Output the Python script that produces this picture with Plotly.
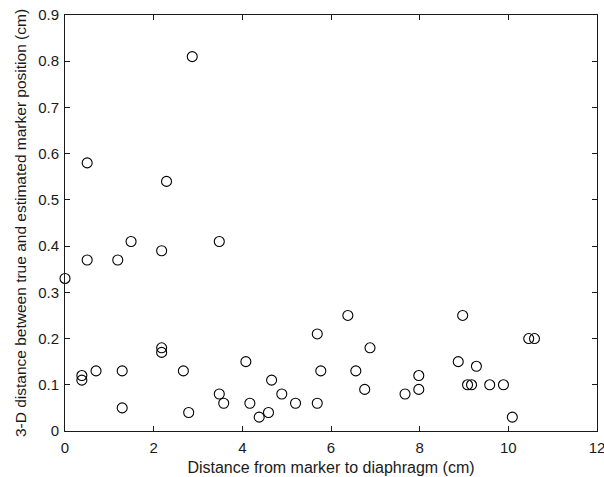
import plotly.graph_objects as go

# Distance from marker to diaphragm (cm)
distance_cm = [
    2.87, 0.50, 2.29,
    0.00, 0.50, 1.19, 1.49, 2.18, 3.48, 2.18, 2.18, 0.38, 0.38, 0.70, 1.29, 1.29, 2.67, 2.79, 3.48, 3.58,
    4.08, 4.17, 4.38, 4.59, 4.66, 4.89, 5.20, 5.69, 5.69, 5.77, 6.38, 6.56, 6.88, 6.76, 7.67, 7.98, 7.98,
    8.97, 8.87, 9.28, 9.08, 9.17, 9.58, 9.89, 10.09, 10.46, 10.59,
]

# 3-D distance between true and estimated marker position (cm)
error_cm = [
    0.81, 0.58, 0.54,
    0.33, 0.37, 0.37, 0.41, 0.39, 0.41, 0.18, 0.17, 0.12, 0.11, 0.13, 0.13, 0.05, 0.13, 0.04, 0.08, 0.06,
    0.15, 0.06, 0.03, 0.04, 0.11, 0.08, 0.06, 0.06, 0.21, 0.13, 0.25, 0.13, 0.18, 0.09, 0.08, 0.12, 0.09,
    0.25, 0.15, 0.14, 0.10, 0.10, 0.10, 0.10, 0.03, 0.20, 0.20,
]

x_ticks = [0, 2, 4, 6, 8, 10, 12]
y_ticks = [0, 0.1, 0.2, 0.3, 0.4, 0.5, 0.6, 0.7, 0.8, 0.9]
y_tick_text = ["0", "0.1", "0.2", "0.3", "0.4", "0.5", "0.6", "0.7", "0.8", "0.9"]

font_family = "Liberation Sans, Arial, sans-serif"
ink = "#1a1a1a"

fig = go.Figure(
    go.Scatter(
        x=distance_cm,
        y=error_cm,
        mode="markers",
        marker=dict(symbol="circle-open", size=10, color="black", line=dict(width=1.1, color="black")),
        showlegend=False,
        cliponaxis=False,
    )
)

axis_common = dict(
    showgrid=False,
    zeroline=False,
    showline=True,
    linecolor=ink,
    linewidth=1,
    mirror="ticks",
    ticks="inside",
    ticklen=5,
    tickcolor=ink,
    ticklabeloverflow="allow",
    tickfont=dict(family=font_family, size=15, color=ink),
)

fig.update_xaxes(
    range=[0, 12],
    tickvals=x_ticks,
    ticktext=[str(v) for v in x_ticks],
    ticklabelstandoff=3,
    title=dict(text="Distance from marker to diaphragm (cm)",
               font=dict(family=font_family, size=16, color=ink), standoff=6),
    **axis_common,
)
fig.update_yaxes(
    range=[0, 0.9],
    tickvals=y_ticks,
    ticktext=y_tick_text,
    ticklabelstandoff=2,
    title=dict(text="3-D distance between true and estimated marker position (cm)",
               font=dict(family=font_family, size=15.5, color=ink), standoff=7),
    **axis_common,
)

fig.update_layout(
    width=604,
    height=477,
    margin=dict(l=65, r=7, t=15, b=46, autoexpand=False),
    paper_bgcolor="white",
    plot_bgcolor="white",
)

fig.write_html("out.html")
